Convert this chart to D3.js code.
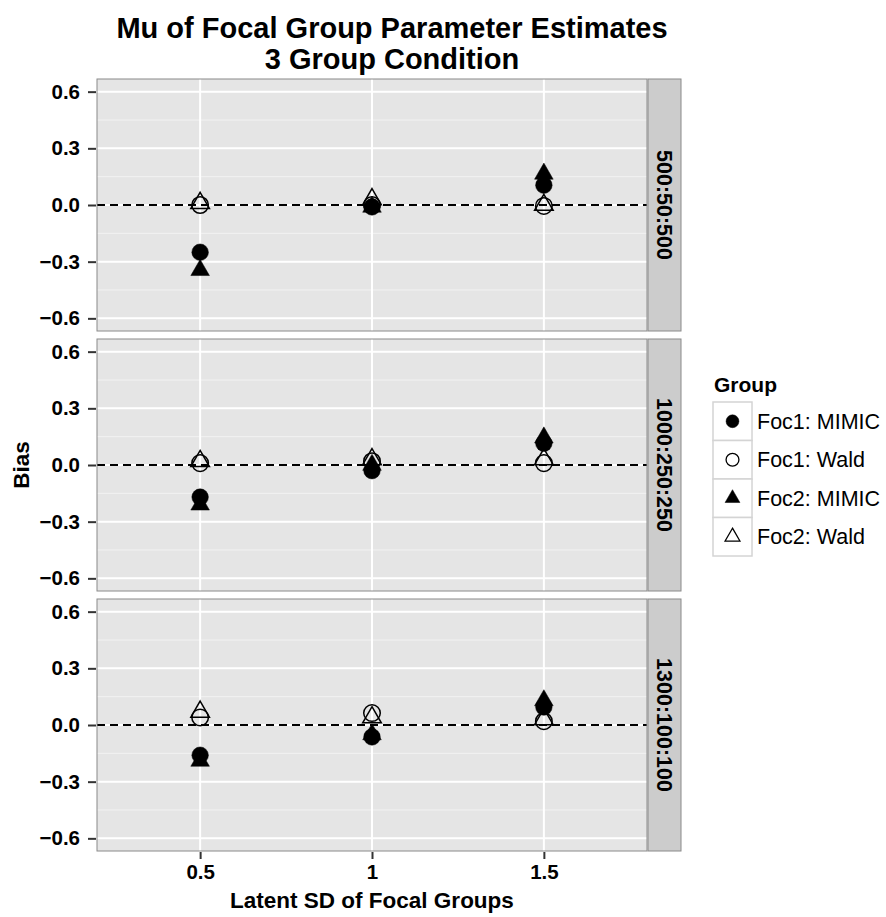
<!DOCTYPE html>
<html>
<head>
<meta charset="utf-8">
<script src="https://cdn.jsdelivr.net/npm/d3@7"></script>
<style>
  body { margin: 0; background: #fff; }
  svg text { font-family: "Liberation Sans", Arial, sans-serif; }
</style>
</head>
<body>
<div id="chart"></div>
<script>
// x is a discrete factor (latent SD of focal groups)
var sdLevels = ["0.5", "1", "1.5"];
// one facet row per sample size condition
var sampleSizes = ["500:50:500", "1000:250:250", "1300:100:100"];
var groups = ["Foc1: MIMIC", "Foc1: Wald", "Foc2: MIMIC", "Foc2: Wald"];
var yTicks = [-0.6, -0.3, 0.0, 0.3, 0.6];
var yMinor = [-0.45, -0.15, 0.15, 0.45];

// bias values, [facet][sd level]
var foc1Mimic = [[-0.25, -0.01, 0.105], [-0.17, -0.03, 0.115], [-0.16, -0.063, 0.095]];
var foc1Wald  = [[0.0, 0.0, -0.005],   [0.01, 0.02, 0.01],    [0.04, 0.063, 0.02]];
var foc2Mimic = [[-0.345, -0.01, 0.165], [-0.21, 0.0, 0.145], [-0.19, -0.05, 0.13]];
var foc2Wald  = [[0.01, 0.03, 0.0],    [0.02, 0.03, 0.03],    [0.07, 0.04, 0.03]];

var seriesValues = [foc1Mimic, foc1Wald, foc2Mimic, foc2Wald];
var shapeType = [d3.symbolCircle, d3.symbolCircle, d3.symbolTriangle, d3.symbolTriangle];
var shapeFilled = [true, false, true, false];

var width = 886, height = 917;
var left = 97, right = 647, stripW = 33;
var panelH = 252, panelGap = 8, top0 = 79;

var svg = d3.select("#chart").append("svg")
    .attr("width", width)
    .attr("height", height);

var x = d3.scalePoint()
    .domain(sdLevels)
    .range([left, right])
    .padding(0.6);

// title, two lines
svg.append("text")
    .attr("x", 392).attr("y", 38)
    .attr("text-anchor", "middle")
    .style("font-size", "29px").style("font-weight", "bold")
    .text("Mu of Focal Group Parameter Estimates");
svg.append("text")
    .attr("x", 392).attr("y", 69)
    .attr("text-anchor", "middle")
    .style("font-size", "29px").style("font-weight", "bold")
    .text("3 Group Condition");

sampleSizes.forEach(function(ss, i){
    var pTop = top0 + i * (panelH + panelGap);
    var y = d3.scaleLinear()
        .domain([-0.667, 0.667])
        .range([pTop + panelH, pTop]);

    var g = svg.append("g");

    g.append("rect")
        .attr("x", left).attr("y", pTop)
        .attr("width", right - left).attr("height", panelH)
        .style("fill", "#e5e5e5");

    // minor grid
    g.selectAll(".minor").data(yMinor).enter().append("line")
        .attr("x1", left).attr("x2", right)
        .attr("y1", function(d){ return y(d); })
        .attr("y2", function(d){ return y(d); })
        .style("stroke", "#f2f2f2").style("stroke-width", 1);

    // major grid
    g.selectAll(".major").data(yTicks).enter().append("line")
        .attr("x1", left).attr("x2", right)
        .attr("y1", function(d){ return y(d); })
        .attr("y2", function(d){ return y(d); })
        .style("stroke", "#fff").style("stroke-width", 2);
    g.selectAll(".vmajor").data(sdLevels).enter().append("line")
        .attr("y1", pTop).attr("y2", pTop + panelH)
        .attr("x1", function(d){ return x(d); })
        .attr("x2", function(d){ return x(d); })
        .style("stroke", "#fff").style("stroke-width", 2);

    // zero reference line
    g.append("line")
        .attr("x1", left).attr("x2", right)
        .attr("y1", y(0)).attr("y2", y(0))
        .style("stroke", "#000").style("stroke-width", 1.8)
        .style("stroke-dasharray", "8,5");

    // points
    seriesValues.forEach(function(vals, k){
        var sym = d3.symbol().type(shapeType[k])
            .size(shapeType[k] === d3.symbolCircle ? 215 : 150);
        g.selectAll(".pt" + k).data(vals[i]).enter().append("path")
            .attr("d", sym)
            .attr("transform", function(d, j){
                return "translate(" + x(sdLevels[j]) + "," + y(d) + ")";
            })
            .style("fill", shapeFilled[k] ? "#000" : "none")
            .style("stroke", "#000")
            .style("stroke-width", shapeFilled[k] ? 0.5 : 1.5);
    });

    // panel border
    g.append("rect")
        .attr("x", left).attr("y", pTop)
        .attr("width", right - left).attr("height", panelH)
        .style("fill", "none").style("stroke", "#8a8a8a").style("stroke-width", 1);

    // strip
    g.append("rect")
        .attr("x", right + 1).attr("y", pTop)
        .attr("width", stripW).attr("height", panelH)
        .style("fill", "#cccccc").style("stroke", "#8a8a8a").style("stroke-width", 1);
    g.append("text")
        .attr("transform", "translate(" + (right + 1 + stripW / 2) + "," + (pTop + panelH / 2) + ") rotate(90)")
        .attr("text-anchor", "middle")
        .attr("dy", "0.35em")
        .style("font-size", "21.5px").style("font-weight", "bold")
        .text(ss);

    // y axis
    var yAxis = d3.axisLeft(y).tickValues(yTicks).tickSize(8).tickPadding(8)
        .tickFormat(function(d){ return d3.format(".1f")(d).replace("-", "\u2212"); });
    var ay = svg.append("g")
        .attr("transform", "translate(" + (left - 1) + ",0)")
        .call(yAxis);
    ay.select(".domain").remove();
    ay.selectAll(".tick line").style("stroke", "#333").style("stroke-width", 2);
    ay.selectAll(".tick text")
        .style("font-size", "20.5px").style("font-weight", "bold")
        .style("fill", "#000").style("font-family", "Liberation Sans, Arial, sans-serif");
});

// x axis under last panel
var bottom = top0 + 3 * panelH + 2 * panelGap;
var xAxis = d3.axisBottom(x).tickSize(7).tickPadding(5);
var ax = svg.append("g")
    .attr("transform", "translate(0," + (bottom + 1) + ")")
    .call(xAxis);
ax.select(".domain").remove();
ax.selectAll(".tick line").style("stroke", "#333").style("stroke-width", 2);
ax.selectAll(".tick text")
    .style("font-size", "20.5px").style("font-weight", "bold")
    .style("fill", "#000").style("font-family", "Liberation Sans, Arial, sans-serif");

// axis titles
svg.append("text")
    .attr("x", (left + right) / 2).attr("y", 908)
    .attr("text-anchor", "middle")
    .style("font-size", "22.5px").style("font-weight", "bold")
    .text("Latent SD of Focal Groups");
svg.append("text")
    .attr("transform", "translate(29," + (top0 + (bottom - top0) / 2) + ") rotate(-90)")
    .attr("text-anchor", "middle")
    .style("font-size", "22.5px").style("font-weight", "bold")
    .text("Bias");

// legend
var legX = 713, legY = 402, keyW = 39, keyH = 38.5;
svg.append("text")
    .attr("x", 714).attr("y", 392)
    .style("font-size", "21px").style("font-weight", "bold")
    .text("Group");

var leg = svg.selectAll(".legend").data(groups).enter().append("g")
    .attr("transform", function(d, k){ return "translate(" + legX + "," + (legY + k * keyH) + ")"; });
leg.append("rect")
    .attr("width", keyW).attr("height", keyH)
    .style("fill", "#fff").style("stroke", "#d4d4d4").style("stroke-width", 1.5);
leg.append("path")
    .attr("transform", "translate(" + keyW / 2 + "," + keyH / 2 + ")")
    .attr("d", function(d, k){
        return d3.symbol().type(shapeType[k])
            .size(shapeType[k] === d3.symbolCircle ? 130 : 95)();
    })
    .style("fill", function(d, k){ return shapeFilled[k] ? "#000" : "none"; })
    .style("stroke", "#000")
    .style("stroke-width", function(d, k){ return shapeFilled[k] ? 0.5 : 1.3; });
leg.append("text")
    .attr("x", keyW + 5).attr("y", keyH / 2)
    .attr("dy", "0.35em")
    .style("font-size", "21.5px")
    .text(function(d){ return d; });
</script>
</body>
</html>
